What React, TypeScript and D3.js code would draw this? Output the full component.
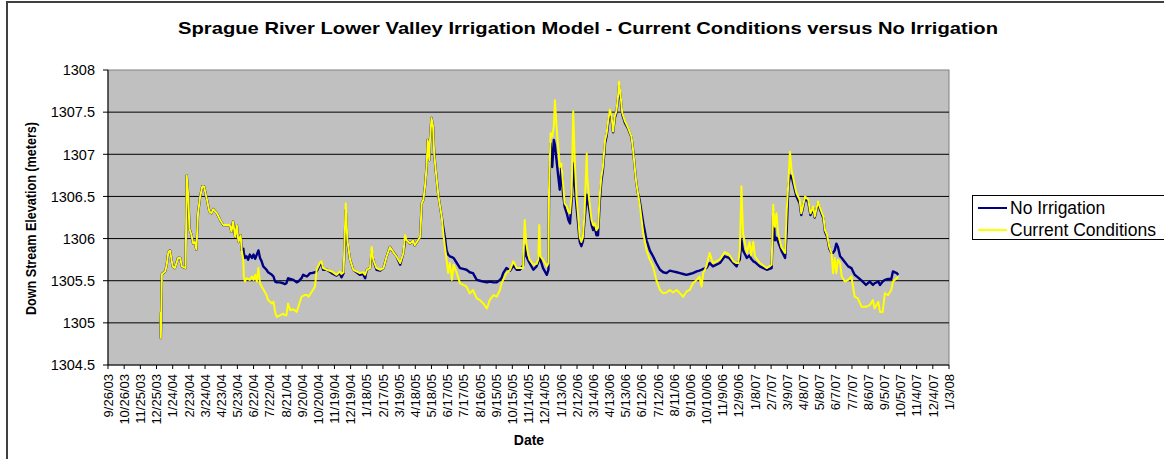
import * as d3 from "d3";
import React from "react";

// sample dates (M/D/YY) and elevations in meters
const dates = [
  "1/1/04", "1/2/04", "1/4/04", "1/10/04", "1/13/04", "1/16/04", "1/19/04", "1/24/04", "1/28/04", "2/3/04",
  "2/7/04", "2/10/04", "2/17/04", "2/19/04", "2/22/04", "2/24/04", "2/28/04", "3/2/04", "3/5/04", "3/8/04",
  "3/11/04", "3/15/04", "3/19/04", "3/22/04", "3/27/04", "4/1/04", "4/5/04", "4/8/04", "4/15/04", "4/21/04",
  "4/27/04", "5/9/04", "5/12/04", "5/15/04", "5/19/04", "5/22/04", "5/25/04", "5/29/04", "5/31/04", "6/3/04",
  "6/4/04", "6/6/04", "6/9/04", "6/12/04", "6/15/04", "6/19/04", "6/22/04", "6/25/04", "6/28/04", "7/1/04",
  "7/4/04", "7/7/04", "7/10/04", "7/16/04", "7/19/04", "7/26/04", "7/29/04", "8/1/04", "8/4/04", "8/10/04",
  "8/16/04", "8/19/04", "8/22/04", "8/25/04", "8/29/04", "9/4/04", "9/10/04", "9/13/04", "9/16/04", "9/19/04",
  "9/22/04", "9/25/04", "9/29/04", "10/2/04", "10/5/04", "10/8/04", "10/14/04", "10/17/04", "10/23/04", "10/26/04",
  "10/29/04", "11/5/04", "11/14/04", "11/23/04", "11/29/04", "12/2/04", "12/6/04", "12/10/04", "12/13/04", "12/18/04",
  "12/24/04", "1/5/05", "1/11/05", "1/15/05", "1/18/05", "1/24/05", "1/27/05", "1/30/05", "2/5/05", "2/12/05",
  "2/18/05", "2/24/05", "3/2/05", "3/8/05", "3/14/05", "3/21/05", "3/27/05", "3/30/05", "4/2/05", "4/8/05",
  "4/14/05", "4/17/05", "4/27/05", "4/30/05", "5/3/05", "5/6/05", "5/9/05", "5/11/05", "5/14/05", "5/15/05",
  "5/18/05", "5/21/05", "5/23/05", "5/26/05", "5/31/05", "6/3/05", "6/6/05", "6/9/05", "6/12/05", "6/15/05",
  "6/18/05", "6/21/05", "6/25/05", "6/28/05", "7/4/05", "7/10/05", "7/16/05", "7/22/05", "7/28/05", "8/3/05",
  "8/10/05", "8/16/05", "8/22/05", "8/29/05", "9/3/05", "9/10/05", "9/16/05", "9/22/05", "9/25/05", "9/28/05",
  "10/4/05", "10/11/05", "10/17/05", "10/23/05", "10/29/05", "11/4/05", "11/7/05", "11/10/05", "11/13/05", "11/16/05",
  "11/23/05", "11/29/05", "12/2/05", "12/4/05", "12/6/05", "12/11/05", "12/18/05", "12/21/05", "12/22/05", "12/25/05",
  "12/28/05", "12/31/05", "1/2/06", "1/5/06", "1/8/06", "1/11/06", "1/14/06", "1/17/06", "1/20/06", "1/24/06",
  "1/27/06", "1/30/06", "2/2/06", "2/5/06", "2/8/06", "2/11/06", "2/14/06", "2/17/06", "2/20/06", "2/23/06",
  "2/26/06", "3/2/06", "3/3/06", "3/6/06", "3/8/06", "3/11/06", "3/14/06", "3/17/06", "3/20/06", "3/23/06",
  "3/26/06", "3/29/06", "4/1/06", "4/5/06", "4/8/06", "4/11/06", "4/14/06", "4/17/06", "4/20/06", "4/23/06",
  "4/26/06", "4/29/06", "5/1/06", "5/4/06", "5/7/06", "5/12/06", "5/18/06", "5/24/06", "5/27/06", "5/30/06",
  "6/2/06", "6/5/06", "6/8/06", "6/15/06", "6/21/06", "6/27/06", "7/3/06", "7/9/06", "7/16/06", "7/22/06",
  "7/28/06", "8/3/06", "8/9/06", "8/16/06", "8/22/06", "8/28/06", "9/3/06", "9/9/06", "9/15/06", "9/22/06",
  "9/27/06", "10/1/06", "10/4/06", "10/10/06", "10/16/06", "10/22/06", "11/4/06", "11/13/06", "11/21/06", "11/29/06",
  "12/5/06", "12/8/06", "12/11/06", "12/14/06", "12/17/06", "12/24/06", "12/29/06", "1/1/07", "1/5/07", "1/8/07",
  "1/17/07", "1/30/07", "2/8/07", "2/11/07", "2/14/07", "2/17/07", "2/20/07", "2/26/07", "3/5/07", "3/8/07",
  "3/11/07", "3/14/07", "3/17/07", "3/20/07", "3/23/07", "3/26/07", "4/1/07", "4/4/07", "4/11/07", "4/17/07",
  "4/21/07", "4/26/07", "4/29/07", "5/5/07", "5/8/07", "5/15/07", "5/18/07", "5/22/07", "5/26/07", "5/30/07",
  "6/2/07", "6/5/07", "6/8/07", "6/11/07", "6/15/07", "6/18/07", "6/24/07", "6/30/07", "7/6/07", "7/9/07",
  "7/12/07", "7/18/07", "7/25/07", "8/2/07", "8/9/07", "8/15/07", "8/18/07", "8/25/07", "8/28/07", "9/2/07",
  "9/6/07", "9/12/07", "9/18/07", "9/21/07", "9/28/07", "10/1/07",
];

const noIrrigation = [
  1305.13, 1304.82, 1305.58, 1305.61, 1305.69, 1305.84, 1305.86, 1305.67, 1305.65, 1305.77,
  1305.77, 1305.67, 1305.65, 1306.75, 1306.5, 1306.12, 1306.04, 1305.94, 1305.96, 1305.87,
  1306.3, 1306.5, 1306.62, 1306.62, 1306.48, 1306.32, 1306.3, 1306.35, 1306.3, 1306.22,
  1306.16, 1306.16, 1306.08, 1306.2, 1306.02, 1306.16, 1305.96, 1306.04, 1305.86, 1305.88,
  1305.83, 1305.77, 1305.79, 1305.75, 1305.81, 1305.77, 1305.81, 1305.76, 1305.81, 1305.86,
  1305.77, 1305.73, 1305.67, 1305.63, 1305.6, 1305.57, 1305.55, 1305.49, 1305.48, 1305.48,
  1305.47, 1305.46, 1305.47, 1305.53, 1305.52, 1305.51, 1305.48, 1305.49, 1305.51, 1305.53,
  1305.57, 1305.56, 1305.55, 1305.57, 1305.59, 1305.59, 1305.6, 1305.61, 1305.69, 1305.71,
  1305.63, 1305.63, 1305.59, 1305.56, 1305.59, 1305.54, 1305.59, 1306.34, 1305.96, 1305.75,
  1305.63, 1305.57, 1305.58, 1305.53, 1305.63, 1305.65, 1305.84, 1305.75, 1305.63, 1305.62,
  1305.65, 1305.79, 1305.9, 1305.84, 1305.79, 1305.69, 1305.83, 1305.98, 1305.98, 1305.94,
  1305.98, 1305.92, 1306.02, 1306.42, 1306.46, 1306.62, 1306.85, 1307.17, 1306.93, 1307.13,
  1307.43, 1307.33, 1307.01, 1306.81, 1306.5, 1306.38, 1306.26, 1306.13, 1306.01, 1305.86,
  1305.81, 1305.79, 1305.78, 1305.77, 1305.71, 1305.65, 1305.64, 1305.63, 1305.6, 1305.59,
  1305.51, 1305.5, 1305.49, 1305.48, 1305.49, 1305.48, 1305.48, 1305.51, 1305.53, 1305.59,
  1305.65, 1305.62, 1305.68, 1305.63, 1305.63, 1305.68, 1305.92, 1305.79, 1305.75, 1305.71,
  1305.63, 1305.67, 1305.72, 1305.84, 1305.75, 1305.65, 1305.57, 1305.63, 1306.46, 1307.13,
  1306.85, 1307.17, 1307.11, 1306.93, 1306.75, 1306.58, 1306.84, 1306.54, 1306.38, 1306.3,
  1306.22, 1306.18, 1306.46, 1306.89, 1306.62, 1306.38, 1306.18, 1305.96, 1305.91, 1305.97,
  1306.22, 1306.52, 1306.46, 1306.38, 1306.3, 1306.16, 1306.1, 1306.13, 1306.04, 1306.04,
  1306.42, 1306.67, 1306.81, 1307.13, 1307.22, 1307.38, 1307.5, 1307.43, 1307.26, 1307.43,
  1307.49, 1307.66, 1307.82, 1307.66, 1307.47, 1307.37, 1307.3, 1307.2, 1307.05, 1306.85,
  1306.66, 1306.54, 1306.46, 1306.18, 1305.98, 1305.86, 1305.79, 1305.71, 1305.63, 1305.6,
  1305.59, 1305.62, 1305.61, 1305.6, 1305.59, 1305.58, 1305.57, 1305.58, 1305.59, 1305.61,
  1305.62, 1305.63, 1305.64, 1305.65, 1305.71, 1305.67, 1305.71, 1305.79, 1305.77, 1305.71,
  1305.67, 1305.72, 1305.75, 1305.98, 1305.86, 1305.77, 1305.8, 1305.76, 1305.73, 1305.72,
  1305.67, 1305.63, 1305.65, 1306.32, 1305.98, 1306.01, 1305.96, 1305.86, 1305.77, 1306.1,
  1306.62, 1306.75, 1306.74, 1306.66, 1306.58, 1306.5, 1306.42, 1306.28, 1306.48, 1306.43,
  1306.28, 1306.36, 1306.25, 1306.42, 1306.36, 1306.24, 1306.08, 1306.02, 1305.88, 1305.83,
  1305.83, 1305.86, 1305.94, 1305.9, 1305.79, 1305.77, 1305.72, 1305.67, 1305.65, 1305.61,
  1305.57, 1305.54, 1305.5, 1305.45, 1305.49, 1305.45, 1305.47, 1305.49, 1305.45, 1305.49,
  1305.51, 1305.52, 1305.52, 1305.61, 1305.59, 1305.57,
];

const currentConditions = [
  1305.13, 1304.82, 1305.58, 1305.61, 1305.69, 1305.84, 1305.86, 1305.67, 1305.65, 1305.77,
  1305.77, 1305.67, 1305.65, 1306.75, 1306.5, 1306.12, 1306.04, 1305.94, 1305.96, 1305.87,
  1306.3, 1306.5, 1306.62, 1306.62, 1306.48, 1306.32, 1306.3, 1306.35, 1306.3, 1306.22,
  1306.16, 1306.16, 1306.08, 1306.2, 1306.02, 1306.16, 1305.96, 1306.04, 1305.86, 1305.75,
  1305.55, 1305.49, 1305.53, 1305.52, 1305.51, 1305.55, 1305.51, 1305.57, 1305.49, 1305.65,
  1305.47, 1305.43, 1305.4, 1305.33, 1305.27, 1305.23, 1305.25, 1305.13, 1305.07, 1305.09,
  1305.11, 1305.09, 1305.09, 1305.23, 1305.15, 1305.16, 1305.13, 1305.19, 1305.25, 1305.31,
  1305.32, 1305.33, 1305.33, 1305.31, 1305.34, 1305.37, 1305.43, 1305.63, 1305.71, 1305.73,
  1305.65, 1305.63, 1305.61, 1305.57, 1305.61, 1305.58, 1305.6, 1306.42, 1305.98, 1305.75,
  1305.63, 1305.59, 1305.6, 1305.57, 1305.63, 1305.65, 1305.9, 1305.75, 1305.65, 1305.63,
  1305.65, 1305.79, 1305.9, 1305.84, 1305.79, 1305.71, 1305.83, 1306.04, 1305.98, 1305.94,
  1305.98, 1305.92, 1306.02, 1306.42, 1306.46, 1306.62, 1306.85, 1307.17, 1306.93, 1307.13,
  1307.43, 1307.33, 1307.01, 1306.81, 1306.5, 1306.38, 1306.26, 1306.06, 1305.9, 1305.75,
  1305.59, 1305.71, 1305.51, 1305.69, 1305.59, 1305.47, 1305.45, 1305.43, 1305.35, 1305.39,
  1305.29, 1305.27, 1305.23, 1305.17, 1305.27, 1305.33, 1305.31, 1305.39, 1305.47, 1305.51,
  1305.59, 1305.63, 1305.73, 1305.65, 1305.65, 1305.65, 1306.22, 1305.94, 1305.83, 1305.75,
  1305.69, 1305.7, 1305.75, 1306.16, 1305.79, 1305.75, 1305.67, 1305.71, 1306.54, 1307.25,
  1307.21, 1307.33, 1307.64, 1307.33, 1307.09, 1306.85, 1306.89, 1306.66, 1306.42, 1306.38,
  1306.32, 1306.3, 1306.54, 1307.51, 1306.89, 1306.5, 1306.28, 1306.02, 1305.96, 1306.02,
  1306.3, 1307.01, 1306.73, 1306.5, 1306.38, 1306.22, 1306.16, 1306.18, 1306.1, 1306.13,
  1306.5, 1306.73, 1306.85, 1307.17, 1307.25, 1307.41, 1307.53, 1307.45, 1307.27, 1307.45,
  1307.51, 1307.68, 1307.86, 1307.68, 1307.49, 1307.39, 1307.31, 1307.21, 1307.05, 1306.85,
  1306.66, 1306.54, 1306.42, 1306.06, 1305.86, 1305.75, 1305.67, 1305.51, 1305.39, 1305.35,
  1305.36, 1305.39, 1305.36, 1305.39, 1305.35, 1305.31, 1305.37, 1305.39, 1305.47, 1305.51,
  1305.55, 1305.43, 1305.59, 1305.67, 1305.83, 1305.71, 1305.75, 1305.84, 1305.81, 1305.73,
  1305.71, 1305.71, 1305.86, 1306.62, 1306.06, 1305.83, 1305.96, 1305.8, 1305.96, 1305.79,
  1305.71, 1305.65, 1305.69, 1306.4, 1306.14, 1306.3, 1306.06, 1305.9, 1305.83, 1306.34,
  1306.66, 1307.03, 1306.81, 1306.72, 1306.62, 1306.54, 1306.46, 1306.3, 1306.5, 1306.46,
  1306.3, 1306.38, 1306.26, 1306.44, 1306.38, 1306.26, 1306.1, 1306.04, 1305.9, 1305.83,
  1305.59, 1305.77, 1305.59, 1305.75, 1305.71, 1305.55, 1305.49, 1305.51, 1305.55, 1305.43,
  1305.31, 1305.29, 1305.19, 1305.19, 1305.21, 1305.27, 1305.17, 1305.25, 1305.13, 1305.13,
  1305.35, 1305.33, 1305.39, 1305.49, 1305.53, 1305.55,
];

const yTicks = [1304.5, 1305, 1305.5, 1306, 1306.5, 1307, 1307.5, 1308];
const xStart = "9/26/03";
const xEnd = "1/3/08";
const tickStepDays = 30;

const seriesNames = ["No Irrigation", "Current Conditions"];
const seriesColors = ["#000080", "#ffff00"];
const seriesWidths = [2.4, 2];

const titleText =
  "Sprague River Lower Valley Irrigation Model - Current Conditions versus No Irrigation";

const font = "'Liberation Sans', Arial, Helvetica, sans-serif";

export default function App() {
  const parse = d3.timeParse("%m/%d/%y");
  const fmt = d3.timeFormat("%-m/%-d/%y");
  const start = parse(xStart)!;
  const end = parse(xEnd)!;
  const when = dates.map((d) => parse(d)!);

  const plot = { left: 108, right: 949, top: 70, bottom: 365 };

  const x = d3.scaleTime().domain([start, end]).range([plot.left, plot.right]);
  const y = d3
    .scaleLinear()
    .domain([yTicks[0], yTicks[yTicks.length - 1]])
    .range([plot.bottom, plot.top]);

  const xTicks = d3.timeDay.range(start, d3.timeDay.offset(end, 1), tickStepDays);

  const line = d3
    .line<number>()
    .x((_, i) => x(when[i]))
    .y((v) => y(v));

  const series = [noIrrigation, currentConditions];

  return (
    <div style={{ position: "absolute", left: 0, top: 0 }}>
      <svg width={1164} height={459} style={{ display: "block", fontFamily: font }}>
        <rect x={0} y={0} width={1164} height={459} fill="#fff" />
        <rect x={7} y={2} width={1200} height={500} fill="#fff" stroke="#404040" strokeWidth={2} />

        <text
          x={588}
          y={34}
          textAnchor="middle"
          fontSize={17}
          fontWeight="bold"
          textLength={820}
          lengthAdjust="spacingAndGlyphs"
        >
          {titleText}
        </text>

        {/* plot area */}
        <rect
          x={plot.left}
          y={plot.top}
          width={plot.right - plot.left}
          height={plot.bottom - plot.top}
          fill="#c0c0c0"
          stroke="#808080"
          strokeWidth={1}
        />
        {yTicks.slice(1, -1).map((t) => (
          <line key={t} x1={plot.left} x2={plot.right} y1={y(t)} y2={y(t)} stroke="#000" strokeWidth={1} />
        ))}

        {/* y axis */}
        <line x1={plot.left} x2={plot.left} y1={plot.top} y2={plot.bottom} stroke="#000" strokeWidth={1} />
        {yTicks.map((t) => (
          <g key={t}>
            <line x1={plot.left - 5} x2={plot.left} y1={y(t)} y2={y(t)} stroke="#000" />
            <text x={95} y={y(t)} dy="0.36em" textAnchor="end" fontSize={14.5}>
              {d3.format("")(t)}
            </text>
          </g>
        ))}
        <text
          transform={`translate(31,${(plot.top + plot.bottom) / 2 + 1}) rotate(-90)`}
          textAnchor="middle"
          dy="0.36em"
          fontSize={15}
          fontWeight="bold"
          textLength={193}
          lengthAdjust="spacingAndGlyphs"
        >
          Down Stream Elevation (meters)
        </text>

        {/* x axis */}
        <line x1={plot.left} x2={plot.right} y1={plot.bottom} y2={plot.bottom} stroke="#000" strokeWidth={1} />
        {xTicks.map((t) => (
          <g key={+t}>
            <line x1={x(t)} x2={x(t)} y1={plot.bottom} y2={plot.bottom + 4} stroke="#000" />
            <text
              transform={`translate(${x(t)},${plot.bottom + 9}) rotate(-90)`}
              textAnchor="end"
              dy="0.36em"
              fontSize={13}
            >
              {fmt(t)}
            </text>
          </g>
        ))}
        <text x={529} y={445} textAnchor="middle" fontSize={14} fontWeight="bold">
          Date
        </text>

        {/* series */}
        {series.map((vals, i) => (
          <path
            key={seriesNames[i]}
            d={line(vals) ?? ""}
            fill="none"
            stroke={seriesColors[i]}
            strokeWidth={seriesWidths[i]}
            strokeLinejoin="round"
          />
        ))}

        {/* legend */}
        <rect x={972.5} y={195.5} width={220} height={44} fill="#fff" stroke="#000" strokeWidth={1} />
        {seriesNames.map((name, i) => (
          <g key={name}>
            <line x1={978} x2={1007} y1={208 + i * 22} y2={208 + i * 22} stroke={seriesColors[i]} strokeWidth={2} />
            <text x={1010} y={208 + i * 22} dy="0.36em" fontSize={17.5}>
              {name}
            </text>
          </g>
        ))}
      </svg>
    </div>
  );
}
